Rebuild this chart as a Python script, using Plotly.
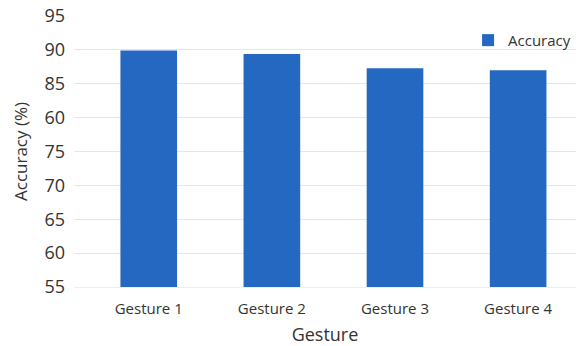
import plotly.graph_objects as go

categories = ["Gesture 1", "Gesture 2", "Gesture 3", "Gesture 4"]
accuracy = [89.9, 89.4, 87.3, 87.0]
y_tick_vals = [55, 60, 65, 70, 75, 80, 85, 90, 95]
y_tick_text = ["55", "60", "65", "70", "75", "60", "85", "90", "95"]

FONT = "Open Sans"
TXT = "#333333"

fig = go.Figure()
fig.add_trace(go.Bar(
    x=categories, y=accuracy, name="Accuracy",
    marker=dict(color="#2468c2", line=dict(width=0)),
    width=0.46,
))

fig.update_layout(
    width=576, height=346,
    margin=dict(l=74, r=0, t=16, b=59, autoexpand=False),
    paper_bgcolor="white", plot_bgcolor="white",
    font=dict(family=FONT, color=TXT),
    showlegend=True,
    legend=dict(x=0.785, y=0.91, xanchor="left", yanchor="middle",
                font=dict(size=15, color=TXT, family=FONT),
                bgcolor="rgba(0,0,0,0)", itemwidth=30),
    xaxis=dict(
        range=[-0.607, 3.47], showgrid=False, zeroline=False,
        showline=True, linecolor="#eeeeee", linewidth=1,
        ticks="", tickfont=dict(size=15, color=TXT),
        ticklabelstandoff=8,
        title=dict(text="Gesture", font=dict(size=18, color=TXT), standoff=15),
    ),
    yaxis=dict(
        range=[55, 95], tickvals=y_tick_vals, ticktext=y_tick_text,
        showgrid=True, gridcolor="#e6e6e6", gridwidth=1, zeroline=False,
        showline=False, ticks="", tickfont=dict(size=18, color=TXT),
        ticklabelstandoff=8,
        title=dict(text="Accuracy (%)", font=dict(size=17, color=TXT), standoff=12),
    ),
)

fig.write_html("out.html")
